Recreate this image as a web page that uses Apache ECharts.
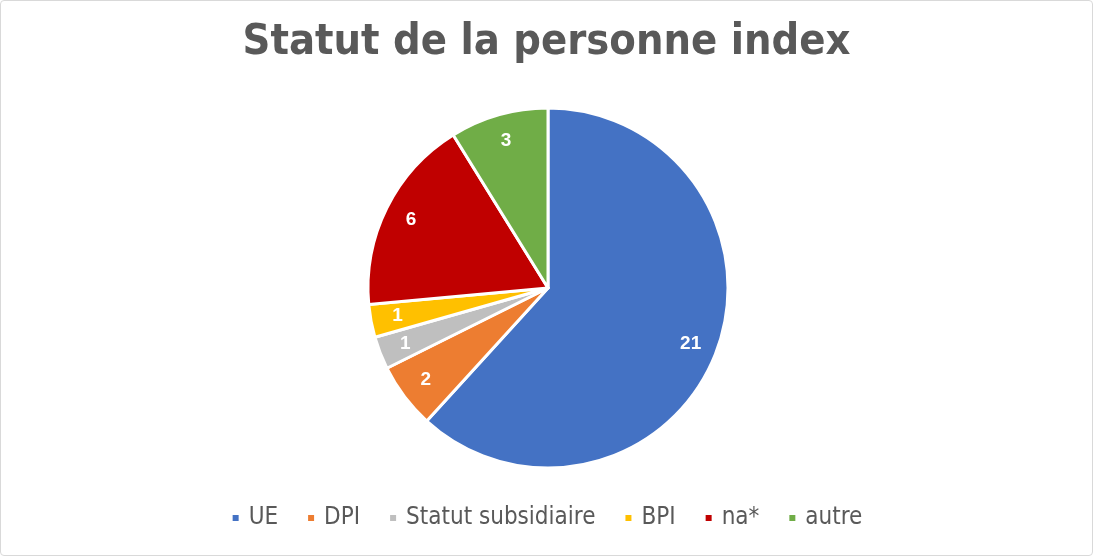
<!DOCTYPE html>
<html>
<head>
<meta charset="utf-8">
<script src="https://cdn.jsdelivr.net/npm/echarts@6/dist/echarts.min.js"></script>
<style>
  html, body { margin: 0; padding: 0; background: #fff; }
  #chart { width: 1093px; height: 556px; box-sizing: border-box; border: 1px solid #d9d9d9; border-radius: 4px; }
</style>
</head>
<body>
<div id="chart"></div>
<script>
const categories = ['UE', 'DPI', 'Statut subsidiaire', 'BPI', 'na*', 'autre'];
const counts = [21, 2, 1, 1, 6, 3];
const colors = ['#4472c4', '#ed7d31', '#bfbfbf', '#ffc000', '#c00000', '#70ad47'];

const FONT = "'DejaVu Sans Condensed', 'Roboto Condensed', Roboto, sans-serif";

const chart = echarts.init(document.getElementById('chart'));
const pieData = categories.map((name, i) => ({ name: name, value: counts[i] }));

const option = {
    color: colors,
    title: {
        text: 'Statut de la personne index',
        left: 'center',
        top: 15,
        textStyle: {
            fontFamily: FONT,
            fontSize: 43,
            fontWeight: 'bold',
            color: '#595959'
        }
    },
    legend: {
        bottom: 20,
        left: 'center',
        icon: 'rect',
        itemWidth: 8,
        itemHeight: 8,
        itemGap: 28,
        textStyle: { fontFamily: FONT, fontSize: 24, color: '#595959', padding: [0, 0, 0, 4] },
        data: categories
    },
    series: [
        {
            type: 'pie',
            center: [547, 287],
            radius: [0, 180],
            startAngle: 90,
            clockwise: true,
            animation: false,
            itemStyle: { borderColor: '#fff', borderWidth: 3 },
            label: { show: false },
            labelLine: { show: false },
            data: pieData
        },
        {
            // label ring only
            type: 'pie',
            center: [547, 287],
            radius: [120, 180],
            startAngle: 90,
            clockwise: true,
            animation: false,
            silent: true,
            legendHoverLink: false,
            itemStyle: { color: 'rgba(0,0,0,0)' },
            label: {
                show: true,
                position: 'inside',
                formatter: '{c}',
                color: '#fff',
                fontFamily: 'Liberation Sans',
                fontWeight: 'bold',
                fontSize: 19
            },
            labelLine: { show: false },
            data: pieData.map(d => ({ name: d.name + ' ', value: d.value }))
        }
    ]
};
chart.setOption(option);
</script>
</body>
</html>
